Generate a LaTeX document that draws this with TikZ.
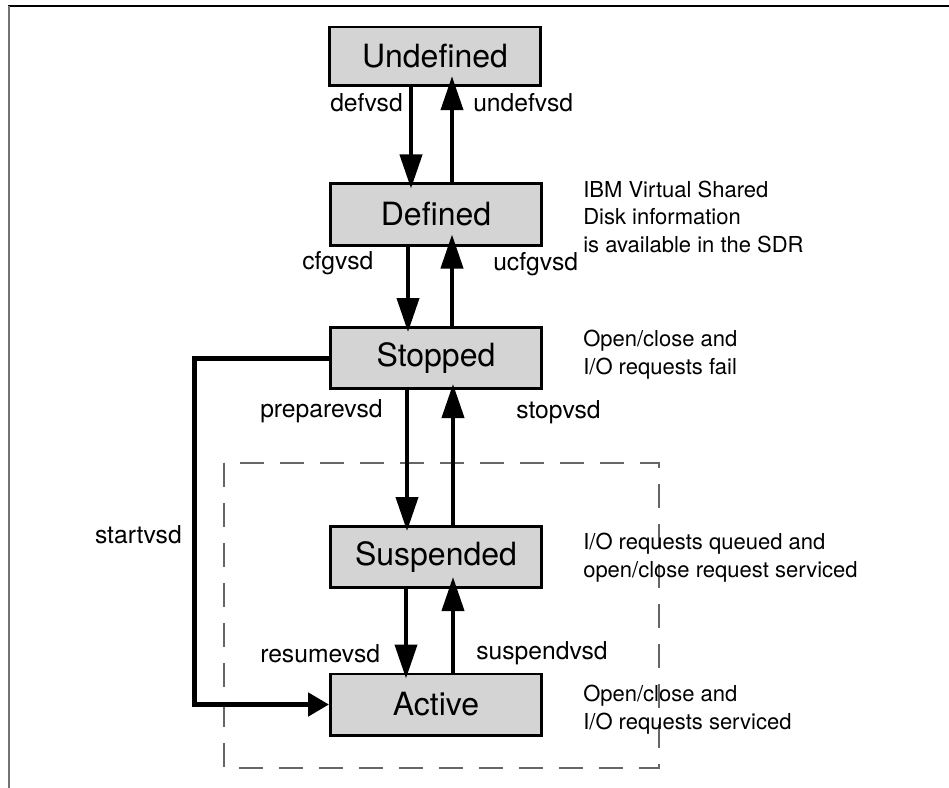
\documentclass[tikz,border=0pt]{standalone}
\usepackage{fontspec}
\setmainfont{TeX Gyre Heros}
\usetikzlibrary{arrows.meta,calc}
\begin{document}
\begin{tikzpicture}[x=0.75pt,y=-0.75pt,
  state/.style={draw=black, line width=2pt, fill=black!17, minimum width=158.5pt,
    minimum height=46pt, inner sep=0pt, font=\fontsize{24}{28}\selectfont},
  flow/.style={line width=3pt, -{Triangle[length=25.5pt,width=16.5pt]}},
  startflow/.style={line width=3.75pt, line join=miter, -{Triangle[length=15.75pt,width=17.25pt]}},
  cmd/.style={anchor=base west, inner sep=0pt, font=\fontsize{18.5}{22}\selectfont},
  note/.style={anchor=base west, inner sep=0pt, align=left, font=\fontsize{16.5}{20.6}\selectfont},
  group/.style={draw=black!60, line width=0.9pt, dash pattern=on 18pt off 12pt}
]
\useasboundingbox (0,0) rectangle (949,788);

% frame
\draw[black, line width=0.8pt] (8,6) -- (949,6);
\draw[black!55, line width=1.1pt] (8.8,6) -- (8.8,788);

% region of the suspended/active states
\draw[group] (224,463) rectangle (659,768);

% states
\node[state, minimum height=44pt] (U) at (435,56.5) {Undefined};
\node[state] (D) at (436,214.5) {Defined};
\node[state] (S) at (436,358) {Stopped};
\node[state] (P) at (436,557) {Suspended};
\node[state] (A) at (436,704.5) {Active};

% transitions
\draw[flow] ($(U.south)+(-24,0)$) -- ($(D.north)+(-25,6)$);
\draw[flow] ($(D.north)+(16,0)$) -- ($(U.south)+(17,-11)$);
\draw[flow] ($(D.south)+(-28,0)$) -- ($(S.north)+(-28,6)$);
\draw[flow] ($(S.north)+(16,0)$) -- ($(D.south)+(16,-12)$);
\draw[flow] ($(S.south)+(-29,0)$) -- ($(P.north)+(-29,6)$);
\draw[flow] ($(P.north)+(17,0)$) -- ($(S.south)+(17,-6)$);
\draw[flow] ($(P.south)+(-30,0)$) -- ($(A.north)+(-30,6)$);
\draw[flow] ($(A.north)+(17,0)$) -- ($(P.south)+(17,-12)$);
\draw[startflow] (S.west) -- ++(-135,0) |- (A.west);

% commands
\node[cmd] (cdef) at (330,112) {defvsd};
\node[cmd] (cundef) at (473,112) {undefvsd};
\node[cmd] (ccfg) at (302,269) {cfgvsd};
\node[cmd] (cucfg) at (493,270) {ucfgvsd};
\node[cmd] (cprep) at (260,417) {preparevsd};
\node[cmd] (cstop) at (516,418) {stopvsd};
\node[cmd, anchor=base east] (cstart) at (182,543) {startvsd};
\node[cmd] (cres) at (260,662) {resumevsd};
\node[cmd] (csusp) at (476,659) {suspendvsd};

% state descriptions (anchored on the baseline of their last line)
\node[note] (ndef) at (583,252) {IBM Virtual Shared\\Disk information\\is available in the SDR};
\node[note] (nstop) at (583,374) {Open/close and\\I/O requests fail};
\node[note] (nsusp) at (583,577) {I/O requests queued and\\open/close request serviced};
\node[note] (nact) at (583,729) {Open/close and\\I/O requests serviced};
\end{tikzpicture}
\end{document}
